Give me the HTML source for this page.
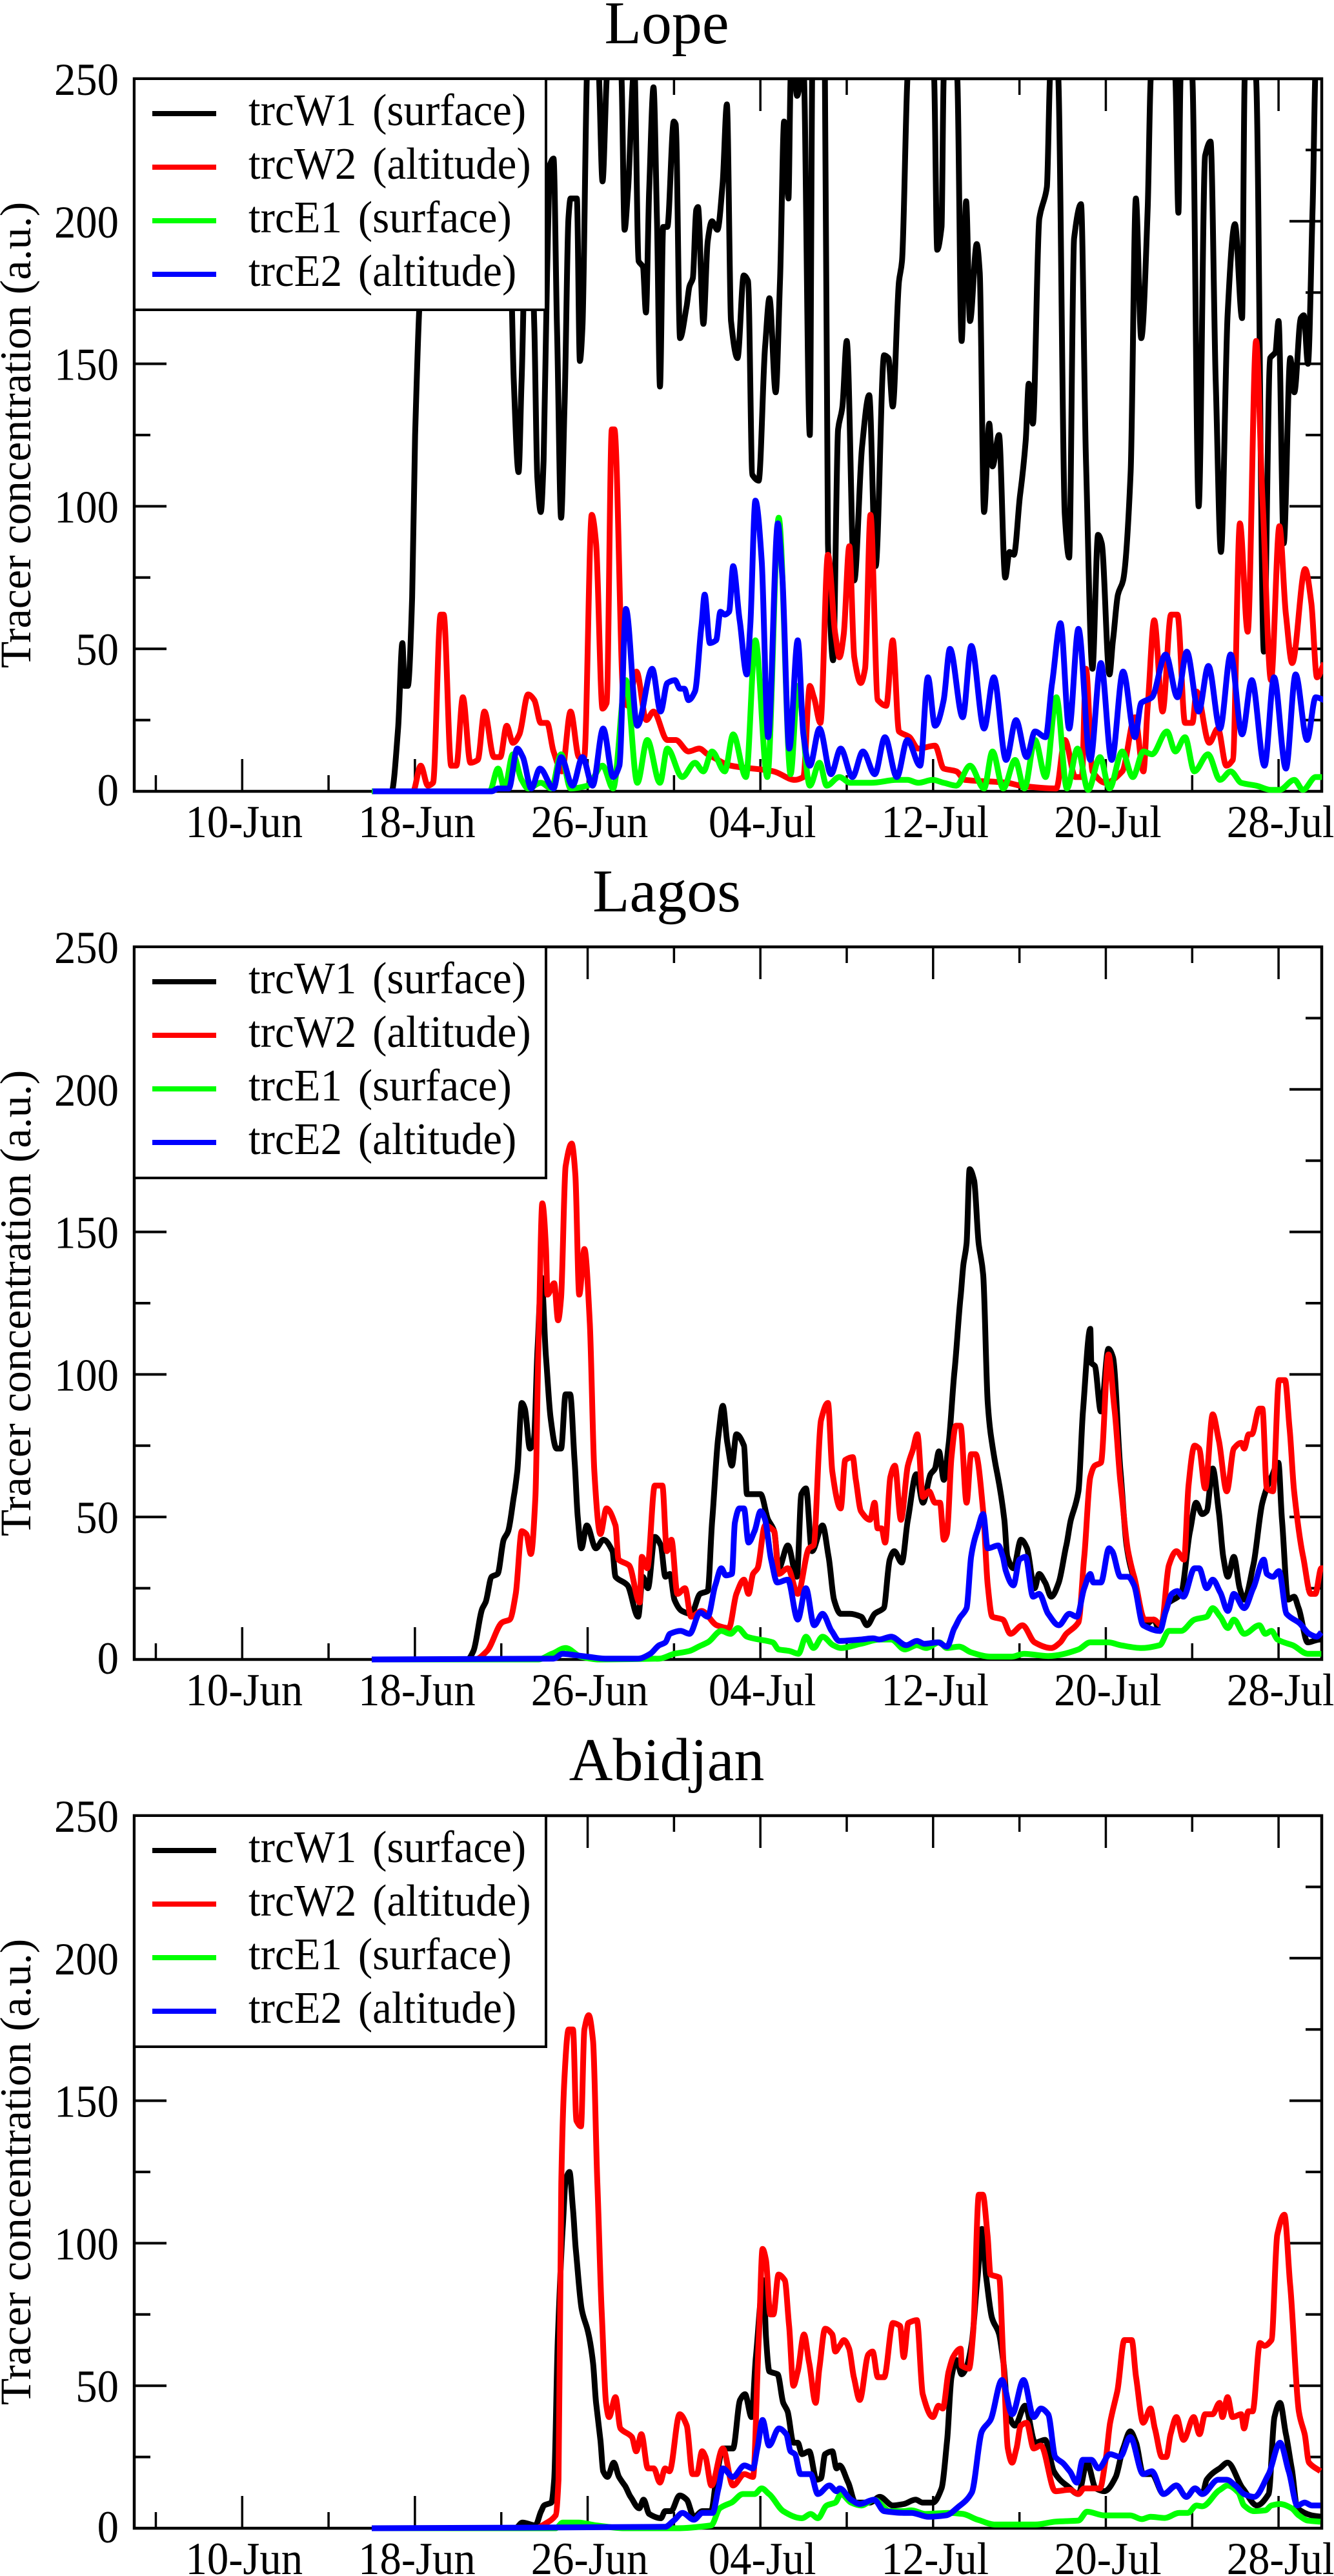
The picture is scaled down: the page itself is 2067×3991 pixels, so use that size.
<!DOCTYPE html>
<html lang="en">
<head>
<meta charset="utf-8">
<title>Tracer concentration at Lope, Lagos and Abidjan</title>
<style>
html,body{margin:0;padding:0;background:#fff;}
svg{display:block;}
text{font-family:"Liberation Serif",serif;fill:#000;}
</style>
</head>
<body>
<svg id="figure" xmlns="http://www.w3.org/2000/svg" width="2067" height="3991" viewBox="0 0 2067 3991"></svg>
<script>
// Days are numbered from 1 June = 1, so 1 July = 31.
const xMajorDays = [10, 18, 26, 34, 42, 50, 58];
const xMinorDays = [6, 14, 22, 30, 38, 46, 54];
const xTickLabels = ["10-Jun", "18-Jun", "26-Jun", "04-Jul", "12-Jul", "20-Jul", "28-Jul"];
const yMajorValues = [0, 50, 100, 150, 200, 250];
const yMinorValues = [25, 75, 125, 175, 225];
const yTickLabels = ["0", "50", "100", "150", "200", "250"];
const seriesNames = ["trcW1 (surface)", "trcW2 (altitude)", "trcE1 (surface)", "trcE2 (altitude)"];
const seriesColors = ["#000000", "#ff0000", "#00ff00", "#0000ff"];
const panelTitles = ["Lope", "Lagos", "Abidjan"];

const lopeW1 = [[16,0],[16.92,0],[17.22,22],[17.42,52],[17.52,37],[17.67,37],[17.87,68],[18.01,125],[18.2,169],[18.4,201],[18.7,260],[20,240],[21,230],[22,260],[22.4,200],[22.58,144],[22.8,112],[22.94,144],[23.14,201],[23.33,210],[23.53,163],[23.67,110],[23.83,98],[23.96,116],[24.12,182],[24.26,220],[24.42,222],[24.58,163],[24.77,96],[24.93,135],[25.11,201],[25.21,208],[25.5,208],[25.64,151],[25.76,163],[25.96,250],[26.1,290],[26.39,290],[26.53,250],[26.69,214],[26.88,250],[27.18,290],[27.57,250],[27.71,197],[27.87,211],[28.1,250],[28.16,255],[28.36,186],[28.56,184],[28.7,168],[28.85,211],[29.05,247],[29.21,201],[29.35,142],[29.5,198],[29.69,198],[29.99,235],[30.08,234],[30.28,159],[30.58,170],[30.71,177],[30.87,180],[31.03,204],[31.11,205],[31.36,164],[31.56,193],[31.76,200],[32.01,197],[32.25,213],[32.45,241],[32.64,165],[32.94,152],[33.23,181],[33.43,179],[33.63,111],[33.92,109],[34.22,156],[34.42,173],[34.71,140],[34.91,179],[35.1,235],[35.3,208],[35.4,250],[35.5,258],[35.7,244],[35.99,255],[36.29,125],[36.42,262],[36.98,260],[37.13,87],[37.37,46],[37.6,127],[37.8,135],[38,158],[38.35,74],[38.71,121],[39.04,139],[39.34,79],[39.73,153],[39.93,152],[40.13,135],[40.42,179],[40.56,186],[40.81,250],[41.1,280],[41.8,280],[42.05,250],[42.19,190],[42.39,198],[42.49,250],[42.8,270],[43.12,250],[43.32,158],[43.53,207],[43.71,165],[44.02,192],[44.16,182],[44.36,98],[44.6,129],[44.75,114],[45.05,125],[45.34,75],[45.54,84],[45.74,83],[46.03,104],[46.29,123],[46.43,143],[46.62,129],[46.92,201],[47.12,207],[47.27,212],[47.41,250],[47.6,270],[47.8,250],[48.1,97],[48.3,82],[48.53,194],[48.85,206],[49.08,116],[49.38,43],[49.64,90],[49.81,87],[50.17,41],[50.33,53],[50.56,69],[50.8,74],[51.15,112],[51.39,208],[51.64,159],[51.94,205],[52.08,250],[52.6,280],[53.22,250],[53.36,203],[53.46,250],[53.7,270],[54.01,250],[54.3,100],[54.6,223],[54.85,228],[55.09,144],[55.33,84],[55.64,167],[55.98,199],[56.31,166],[56.43,250],[56.66,270],[56.96,250],[57.32,49],[57.61,152],[57.85,154],[58,165],[58.24,87],[58.54,152],[58.73,140],[59.03,166],[59.17,167],[59.36,150],[59.58,205],[59.72,253],[60.01,250]];
const lopeW2 = [[16,0],[17.91,0],[18.27,9],[18.6,2],[18.84,3],[19.19,62],[19.33,62],[19.68,9],[19.92,9],[20.22,33],[20.57,10],[20.91,11],[21.22,28],[21.66,12],[21.95,12],[22.25,23],[22.54,17],[22.84,20],[23.24,34],[23.53,32],[23.83,24],[24.12,24],[24.42,14],[24.81,7],[25.21,28],[25.6,12],[25.84,12],[26.19,97],[26.39,87],[26.69,29],[26.88,31],[27.12,127],[27.24,127],[27.67,32],[27.87,30],[28.26,42],[28.72,25],[29.05,28],[29.69,18],[30.08,18],[30.67,14],[31.17,15],[31.56,13],[32.64,9],[33.63,8],[34.61,7],[35.6,4],[35.99,5],[36.29,37],[36.48,33],[36.78,24],[37.13,83],[37.47,55],[37.66,47],[37.86,55],[38.12,86],[38.35,47],[38.65,38],[38.85,43],[39.1,97],[39.44,32],[39.83,30],[40.13,53],[40.42,21],[40.91,19],[41.31,15],[42.09,16],[42.49,8],[43.08,7],[43.47,4],[45.44,3],[46.03,2],[47.71,1],[48.1,18],[48.59,5],[48.89,5],[49.08,43],[49.38,7],[49.97,3],[50.76,7],[51.35,26],[51.74,7],[51.94,30],[52.24,60],[52.63,28],[53.02,62],[53.32,62],[53.67,24],[54.01,24],[54.2,35],[54.79,17],[55.19,22],[55.58,9],[55.88,11],[56.21,94],[56.57,56],[56.96,158],[57.26,102],[57.65,39],[58.04,93],[58.34,62],[58.63,45],[59.23,78],[59.52,66],[59.78,40],[60.11,45]];
const lopeE1 = [[16,0],[21.46,0],[21.85,8],[22.15,1],[22.54,13],[22.94,4],[23.24,1],[23.83,3],[24.32,1],[24.77,13],[25.21,1],[26,2],[26.69,9],[27.18,1],[27.77,39],[28.3,3],[28.76,18],[29.35,3],[29.69,15],[30.38,5],[30.97,10],[31.36,7],[31.76,14],[32.35,7],[32.74,20],[33.33,5],[33.77,53],[34.32,5],[34.85,96],[35.4,6],[35.73,37],[36.29,2],[36.74,10],[37.07,2],[37.66,5],[38.16,3],[39.14,3],[40.32,4],[40.81,4],[41.31,3],[41.98,4],[42.49,3],[43.08,2],[43.71,9],[44.36,1],[44.75,14],[45.25,1],[45.8,11],[46.23,1],[46.72,18],[47.21,5],[47.71,33],[48.2,1],[48.69,15],[49.18,0.5],[49.73,12],[50.17,1],[50.76,14],[51.25,5],[51.74,14],[52.14,13],[52.83,21],[53.22,14],[53.67,19],[54.1,7],[54.73,13],[55.29,4],[55.78,7],[56.27,3],[56.96,2],[57.65,0.5],[58.04,0.5],[58.73,4],[59.13,0.5],[59.72,5],[60.01,5]];
const lopeE2 = [[16.04,0],[21.56,0],[21.85,1],[22.35,1],[22.74,15],[23,12],[23.39,1],[23.79,8],[24.42,1],[24.77,12],[25.3,2],[25.76,12],[26.23,2],[26.72,22],[27.18,5],[27.47,9],[27.77,64],[28.3,23],[28.99,43],[29.38,28],[29.69,38],[30.04,39],[30.28,36],[30.48,36],[30.67,32],[30.97,35],[31.27,58],[31.42,69],[31.66,52],[31.95,53],[32.15,63],[32.35,62],[32.55,63],[32.74,79],[33.04,60],[33.37,41],[33.53,58],[33.77,102],[34.06,81],[34.36,19],[34.81,94],[35.01,76],[35.34,15],[35.73,53],[35.99,20],[36.29,9],[36.74,22],[37.27,6],[37.72,15],[38.26,5],[38.75,14],[39.3,6],[39.77,19],[40.32,5],[40.81,18],[41.4,9],[41.76,40],[42.09,23],[42.49,32],[42.78,50],[43.37,26],[43.77,51],[44.36,22],[44.81,40],[45.38,11],[45.84,25],[46.33,12],[46.72,21],[47.21,19],[47.51,38],[47.9,59],[48.3,22],[48.73,57],[49.28,11],[49.77,45],[50.27,11],[50.8,42],[51.35,19],[51.64,31],[52.14,33],[52.77,48],[53.32,33],[53.75,49],[54.3,28],[54.75,44],[55.29,22],[55.78,48],[56.31,20],[56.76,39],[57.35,9],[57.79,40],[58.34,8],[58.79,41],[59.32,18],[59.72,33],[60.11,32]];

const lagosW1 = [[16,0],[20.43,0],[20.71,3],[21.13,18],[21.27,20],[21.55,29],[21.83,30],[22.11,42],[22.32,45],[22.6,58],[22.74,66],[22.95,90],[23.09,88],[23.33,74],[23.51,77],[23.68,109],[23.86,134],[24.07,106],[24.28,85],[24.56,74],[24.77,74],[24.98,93],[25.19,93],[25.4,69],[25.54,50],[25.71,39],[25.96,47],[26.38,39],[26.73,42],[27.15,38],[27.29,29],[27.85,26],[28.34,15],[28.55,29],[28.79,25],[29.11,43],[29.39,40],[29.6,29],[29.81,30],[30.02,21],[30.37,17],[30.79,16],[31.21,23],[31.56,24],[31.77,49],[32.05,78],[32.26,89],[32.47,76],[32.68,68],[32.89,79],[33.24,75],[33.38,58],[34.01,58],[34.36,49],[34.64,45],[34.85,32],[35.27,40],[35.69,29],[35.9,58],[36.11,60],[36.39,38],[36.88,47],[37.16,36],[37.41,21],[37.72,16],[38.14,16],[38.67,15],[38.94,12],[39.29,16],[39.71,18],[39.99,35],[40.2,38],[40.55,34],[40.83,49],[41.22,65],[41.53,55],[41.88,65],[42.09,67],[42.27,73],[42.5,63],[42.71,75],[42.99,101],[43.27,127],[43.41,139],[43.55,146],[43.69,172],[43.9,168],[44.11,146],[44.32,135],[44.53,90],[44.67,79],[44.95,66],[45.3,49],[45.44,36],[45.72,32],[46.07,42],[46.35,39],[46.7,25],[46.91,30],[47.19,27],[47.47,22],[47.82,27],[48.17,40],[48.38,49],[48.73,59],[48.94,87],[49.28,116],[49.33,104],[49.49,103],[49.77,87],[50.12,109],[50.33,106],[50.68,66],[50.96,40],[51.31,28],[51.8,12],[52.22,14],[52.5,10],[52.78,19],[53.48,23],[53.9,45],[54.18,55],[54.46,51],[54.67,52],[54.95,67],[55.23,52],[55.44,36],[55.65,29],[55.93,36],[56.2,25],[56.41,21],[56.83,33],[57.25,55],[57.67,64],[57.99,69],[58.16,49],[58.44,21],[58.72,22],[58.93,18],[59.35,6],[59.91,7],[60.05,7]];
const lagosW2 = [[16,0],[20.78,0],[21.34,3],[22.04,13],[22.39,14],[22.67,23],[22.95,45],[23.16,44],[23.37,37],[23.58,57],[23.72,109],[23.9,160],[24.07,144],[24.14,128],[24.45,132],[24.63,119],[24.77,127],[24.98,173],[25.26,181],[25.43,170],[25.61,128],[25.85,144],[26.1,118],[26.31,66],[26.59,44],[26.87,53],[27.29,47],[27.43,35],[27.92,33],[28.41,20],[28.51,36],[28.76,32],[29.11,61],[29.46,61],[29.67,38],[29.88,42],[30.16,23],[30.51,25],[30.79,15],[31.28,17],[31.98,12],[32.54,11],[32.89,23],[33.24,28],[33.45,23],[33.66,30],[33.87,32],[34.22,47],[34.64,45],[34.85,30],[35.27,32],[35.73,23],[36.25,39],[36.46,40],[36.81,84],[37.13,90],[37.33,66],[37.72,53],[37.93,70],[38.28,71],[38.42,63],[38.66,52],[39.08,49],[39.29,55],[39.43,46],[39.61,46],[39.78,41],[40.02,64],[40.23,68],[40.51,49],[40.83,68],[41.04,73],[41.27,79],[41.53,57],[41.81,59],[42.09,55],[42.32,55],[42.5,42],[42.64,44],[42.85,71],[43.06,82],[43.27,82],[43.55,55],[43.76,72],[43.97,72],[44.32,52],[44.53,26],[44.74,15],[45.23,14],[45.58,9],[46.14,12],[46.7,6],[47.47,4],[47.89,6],[48.17,9],[48.73,13],[49,36],[49.28,64],[49.49,68],[49.77,69],[50.12,107],[50.4,88],[50.68,62],[51.03,38],[51.31,29],[51.8,14],[52.22,14],[52.57,12],[52.92,33],[53.27,38],[53.62,35],[53.83,61],[54.11,75],[54.32,74],[54.6,60],[54.95,86],[55.23,77],[55.6,59],[55.93,74],[56.27,76],[56.41,74],[56.62,79],[56.76,79],[57.11,88],[57.25,88],[57.46,60],[57.74,59],[58.02,98],[58.3,98],[58.51,81],[58.72,59],[59.14,36],[59.49,23],[59.7,23],[59.98,32],[60.19,32]];
const lagosE1 = [[16,0],[23.72,0],[24.35,2],[24.98,4],[25.68,1],[26.52,0],[29.32,0.3],[30.02,2],[30.72,3],[31.28,5],[31.56,6],[32.19,10],[32.61,9],[32.96,11],[33.38,8],[33.94,7],[34.57,6],[34.85,3.5],[35.34,3],[35.76,2],[36.11,8],[36.46,4],[36.88,8],[37.37,5],[37.72,4],[38.66,5.5],[39.5,7],[40.06,7],[40.69,3.5],[41.25,5],[41.67,4],[42.29,6],[42.64,4],[43.2,4.5],[43.76,2.5],[44.67,1],[45.65,1],[46.21,2],[47.33,1.2],[48.73,3.5],[49.28,6],[50.12,6],[50.68,5],[51.66,4],[52.5,5],[52.92,10],[53.48,10],[54.11,14],[54.67,15],[54.95,18],[55.3,15],[55.65,11],[55.93,14],[56.41,9],[57.11,12],[57.39,9],[57.67,10],[57.95,7],[58.65,5],[59.35,2],[59.98,2]];
const lagosE2 = [[16,0],[24.42,0.3],[24.84,2],[25.54,1.4],[25.96,1],[26.8,0.3],[28.34,0.3],[28.9,2],[29.32,5],[29.6,6],[29.81,9],[30.3,10],[30.72,9],[31.21,16.5],[31.56,15],[31.91,26],[32.19,32],[32.4,29.5],[32.68,30],[32.82,48],[33.03,53],[33.24,53],[33.45,41],[33.73,45],[34.01,52],[34.22,49],[34.5,35],[34.78,27],[35.27,28],[35.73,14],[36.11,25],[36.49,12],[36.88,16],[37.3,10],[37.65,6.5],[38.66,7],[39.22,7.4],[39.5,7],[40.06,8],[40.76,5],[41.25,6.5],[41.6,5.5],[42.22,6],[42.64,4.5],[42.99,11],[43.27,15],[43.55,18],[43.76,36],[44.04,45],[44.32,51],[44.53,39],[45.02,40],[45.23,36],[45.37,31],[45.72,26],[46,35],[46.28,36],[46.63,22],[46.91,23],[47.33,16],[47.82,12],[48.31,16],[48.66,15],[49,25],[49.28,30],[49.42,27],[49.77,27],[50.15,39],[50.29,38],[50.68,29],[51.03,29],[51.31,26],[51.73,12],[52.5,10],[52.78,17],[53.06,23],[53.31,24],[53.59,22],[54.11,32],[54.32,32],[54.67,25],[54.95,28],[55.3,23.5],[55.65,17],[55.93,23],[56.41,18],[56.83,25],[57.32,35],[57.46,30],[57.74,29],[58.02,31],[58.37,16],[58.93,13],[59.42,9],[59.77,8],[59.98,9.5]];

const abidjanW1 = [[16,0],[22.65,0],[22.98,2],[23.58,1],[23.85,6],[23.98,8],[24.32,9],[24.45,17],[24.62,67],[24.85,106],[24.98,122],[25.16,125],[25.32,112],[25.45,98],[25.72,77],[25.98,70],[26.25,58],[26.39,44],[26.59,31],[26.72,20],[26.92,18],[27.21,23],[27.45,18],[27.72,15],[27.99,11],[28.39,7],[28.59,10],[28.85,5],[29.39,3.5],[29.59,6],[29.86,6],[30.26,11.5],[30.59,10],[30.92,4],[31.32,6],[31.72,6],[31.99,19],[32.26,28],[32.73,28],[33.06,45],[33.29,47],[33.59,39],[33.79,60],[34.15,87],[34.26,67],[34.42,55],[34.8,54],[35.06,44],[35.26,41],[35.53,30],[35.73,30],[35.93,26],[36.26,27],[36.6,17],[36.8,17.5],[37,26],[37.33,27],[37.53,21],[37.67,22],[38.07,16],[38.4,9],[39.07,9],[39.53,11],[40.13,8],[40.64,8.5],[41.19,10],[41.52,9],[41.99,9],[42.39,14],[42.65,31],[42.85,53],[43.09,59],[43.32,54],[43.52,56],[43.79,65],[44.06,88],[44.26,105],[44.46,88],[44.72,74],[45.06,68],[45.26,58],[45.46,41],[45.79,36],[46.26,43],[46.73,30],[47.19,31],[47.59,20],[48.19,15],[48.73,12],[49.13,23],[49.53,14],[49.93,13],[50.46,18],[50.8,28],[51.13,34],[51.4,30],[51.73,19],[52.13,19],[52.67,12],[53.27,15],[53.73,11],[54.13,14],[54.47,12],[54.67,17],[55.27,21],[55.64,23],[56.34,14],[57,8],[57.54,12],[57.81,39],[58.07,44],[58.34,33],[58.61,21],[58.87,7],[59.54,4.5],[60.01,4]];
const abidjanW2 = [[16,0],[23.58,0],[24.12,2],[24.52,4.5],[24.65,17],[24.78,121],[24.92,157],[25.12,175],[25.32,175],[25.48,143],[25.69,141],[25.85,175],[26.05,180],[26.25,171],[26.45,121],[26.65,76],[26.85,44],[26.99,39],[27.29,46],[27.52,35],[28.05,32],[28.25,27],[28.49,33],[28.79,21],[29.06,21],[29.35,16],[29.59,21],[29.79,20],[30.26,40],[30.59,36],[30.86,19],[31.06,19],[31.3,27],[31.46,25],[31.73,15],[32.26,28],[32.73,15],[33.26,19],[33.66,18],[33.93,67],[34.1,98],[34.26,94],[34.46,75],[34.6,75],[34.84,89],[35.13,87],[35.33,71],[35.53,50],[35.73,55],[36.02,68],[36.26,58],[36.56,44],[36.73,56],[37,70],[37.33,68],[37.47,62],[37.67,64],[37.87,66],[38.11,63],[38.33,53],[38.6,45],[39,61],[39.2,62],[39.44,53],[39.73,53],[40.14,72],[40.47,71],[40.64,60],[40.85,72],[41.25,73],[41.52,47],[41.99,39],[42.25,43],[42.45,42],[42.72,55],[42.92,60],[43.28,63],[43.32,57],[43.66,56],[43.86,69],[44.12,117],[44.3,117],[44.52,103],[44.66,89],[45.06,88],[45.26,58],[45.46,28],[45.66,23],[45.86,28],[46.06,36],[46.33,37],[46.66,28],[46.99,29],[47.66,13],[48.33,13.5],[48.73,12],[49,14],[49.73,14],[49.99,24],[50.2,37],[50.53,48],[50.86,66],[51.2,66],[51.4,53],[51.73,37],[52.07,42],[52.27,35],[52.6,25],[52.8,25],[53,33],[53.27,39],[53.6,31],[54.07,39],[54.34,33],[54.6,40],[54.94,40],[55.27,44],[55.4,39],[55.64,46],[55.87,39],[56.27,40],[56.4,35],[56.6,41],[56.8,41],[57.14,65],[57.34,64],[57.67,66],[57.94,103],[58.27,110],[58.54,85],[58.94,41],[59.21,33],[59.41,23],[59.94,20]];
const abidjanE1 = [[16,0],[24.52,0],[24.85,2],[25.58,2],[26.39,1],[27.72,0],[30.12,0],[31.72,1],[32.12,7],[32.66,9],[33.19,12],[33.73,12],[34.06,14],[34.4,12],[35.06,6],[35.93,3.5],[36.33,5],[36.66,3.5],[37.07,8],[37.47,9],[37.73,12],[38.2,9],[38.67,8],[39.27,10],[40,6],[40.64,6],[40.99,6.3],[41.65,5],[42.72,5.4],[43.39,5],[44.06,3],[44.86,1.3],[45.66,1.3],[46.73,1.3],[47.66,2.3],[48.73,2.7],[49.13,5.8],[49.93,4.5],[51.13,4.5],[51.67,3.2],[52.07,4],[52.73,3.6],[53.4,5.4],[53.8,5.4],[54.2,8],[54.47,7.7],[55.27,13.4],[55.64,15],[56.14,12.5],[56.4,8],[56.87,6],[57.4,6.3],[57.67,8],[58.07,8.5],[58.61,7],[58.94,4.5],[59.34,2.7],[59.94,2.3]];
const abidjanE2 = [[16,0],[29.59,0.5],[29.99,2.7],[30.39,5.4],[30.92,3],[31.32,5.4],[31.79,5.4],[32.06,14],[32.26,21],[32.73,18],[33.26,22],[33.66,21],[33.86,28],[34.1,38],[34.4,29],[34.86,35],[35.2,33],[35.4,27],[35.6,26],[35.86,19],[36.33,19],[36.66,12],[37.2,15],[37.53,13],[37.67,14],[38.2,10],[38.6,8.5],[39.27,10],[39.73,6],[40.64,5.4],[40.99,5.4],[41.79,4],[42.59,4.5],[43.25,8],[43.79,12.5],[44.26,34],[44.66,38],[45.19,52],[45.66,40],[46.19,52],[46.66,39],[46.99,42],[47.33,40],[47.66,25],[47.99,23],[48.33,20],[48.66,16],[48.93,24],[49.33,24],[49.66,21],[50.2,26],[50.66,25],[51.13,32],[51.73,19],[52.13,20],[52.67,12],[53.27,15],[53.73,11],[54.13,14],[54.47,12],[55.2,17],[55.6,17],[56,15],[56.4,12],[56.87,11],[57.54,19],[58.07,30],[58.47,20],[58.87,8],[59.21,9],[59.54,8],[59.94,8]];

const lopeSeries = [lopeW1, lopeW2, lopeE1, lopeE2];
const lagosSeries = [lagosW1, lagosW2, lagosE1, lagosE2];
const abidjanSeries = [abidjanW1, abidjanW2, abidjanE1, abidjanE2];
const panelSeries = [lopeSeries, lagosSeries, abidjanSeries];

const SVGNS = "http://www.w3.org/2000/svg";
const figure = document.getElementById("figure");
const plotLeft = 208, plotRight = 2048, plotHeight = 1104;
const panelTops = [122, 1467, 2813];
const dayMin = 5, dayMax = 60, valueMin = 0, valueMax = 250;

function xScale(day) {
  return plotLeft + (day - dayMin) / (dayMax - dayMin) * (plotRight - plotLeft);
}
function yScale(value, top) {
  return top + plotHeight - (value - valueMin) / (valueMax - valueMin) * plotHeight;
}
function kebab(s) {
  return s.toLowerCase().replace(/[^a-z0-9]+/g, "-").replace(/^-|-$/g, "");
}
function make(tag, attrs, parent) {
  const el = document.createElementNS(SVGNS, tag);
  for (const k in attrs) el.setAttribute(k, attrs[k]);
  parent.appendChild(el);
  return el;
}
function seg(x1, y1, x2, y2, w, parent, name) {
  const el = make("line", {x1: x1, y1: y1, x2: x2, y2: y2, stroke: "#000", "stroke-width": w}, parent);
  
  
  return el;
}
function label(str, x, y, size, anchor, sx, sy, parent, name) {
  const el = make("text", {transform: "translate(" + x + "," + y + ") scale(" + sx + "," + sy + ")", "font-size": size, "text-anchor": anchor}, parent);
  el.textContent = str;
  
  
  return el;
}
// Monotone cubic path through the data points (the source curves are densely sampled and read as smooth).
function curvePath(points, top) {
  const px = points.map(function (p) { return xScale(p[0]); });
  const py = points.map(function (p) { return yScale(p[1], top); });
  const n = px.length;
  const slope = [];
  for (let i = 0; i < n - 1; i++) slope.push((py[i + 1] - py[i]) / (px[i + 1] - px[i]));
  const tan = [slope[0]];
  for (let i = 1; i < n - 1; i++) {
    const s0 = slope[i - 1], s1 = slope[i];
    if (s0 * s1 <= 0) { tan.push(0); continue; }
    const h0 = px[i] - px[i - 1], h1 = px[i + 1] - px[i];
    const mid = (s0 * h1 + s1 * h0) / (h0 + h1);
    const sign = s0 > 0 ? 1 : -1;
    tan.push(sign * Math.min(Math.abs(s0), Math.abs(s1), 0.5 * Math.abs(mid)) * 1.6);
  }
  tan.push(slope[n - 2]);
  let d = "M" + px[0].toFixed(1) + " " + py[0].toFixed(1);
  for (let i = 0; i < n - 1; i++) {
    const h = (px[i + 1] - px[i]) / 3;
    d += "C" + (px[i] + h).toFixed(1) + " " + (py[i] + tan[i] * h).toFixed(1) + " " +
         (px[i + 1] - h).toFixed(1) + " " + (py[i + 1] - tan[i + 1] * h).toFixed(1) + " " +
         px[i + 1].toFixed(1) + " " + py[i + 1].toFixed(1);
  }
  return d;
}

panelTitles.forEach(function (title, p) {
  const top = panelTops[p];
  const bottom = top + plotHeight;
  const key = kebab(title);

  const g = make("g", {}, figure);
  
  

  const clip = make("clipPath", {id: "clip-" + key}, g);
  make("rect", {x: plotLeft - 2, y: top - 1, width: plotRight - plotLeft + 4, height: plotHeight + 7}, clip);

  label(title, 1033, top - 55, 94, "middle", 1, 1, g, key + '-title');

  const yTitle = make("text", {transform: "translate(47," + (top + plotHeight / 2) + ") rotate(-90)", "font-size": 68, "text-anchor": "middle"}, g);
  yTitle.textContent = "Tracer concentration (a.u.)";
  
  

  // ticks on all four sides
  xMajorDays.forEach(function (d, i) {
    const x = xScale(d);
    seg(x, bottom, x, bottom - 50, 3.5, g, 'x-major-tick');
    seg(x, top, x, top + 50, 3.5, g, 'x-major-tick-top');
    label(xTickLabels[i], x + 3, bottom + 71, 66.7, "middle", 1, 1.06, g, 'x-tick-label');
  });
  xMinorDays.forEach(function (d) {
    const x = xScale(d);
    seg(x, bottom, x, bottom - 25, 3.5, g, 'x-minor-tick');
    seg(x, top, x, top + 25, 3.5, g, 'x-minor-tick-top');
  });
  yMajorValues.forEach(function (v, i) {
    const y = yScale(v, top);
    seg(plotLeft, y, plotLeft + 50, y, 4, g, 'y-major-tick');
    seg(plotRight, y, plotRight - 50, y, 4, g, 'y-major-tick-right');
    label(yTickLabels[i], 184, y + (v === 0 ? 22 : 25), 66.7, "end", 1, 1.06, g, 'y-tick-label');
  });
  yMinorValues.forEach(function (v) {
    const y = yScale(v, top);
    seg(plotLeft, y, plotLeft + 25, y, 4, g, 'y-minor-tick');
    seg(plotRight, y, plotRight - 25, y, 4, g, 'y-minor-tick-right');
  });

  const frame = make("rect", {x: plotLeft, y: top, width: plotRight - plotLeft, height: plotHeight, fill: "none", stroke: "#000", "stroke-width": 4.5}, g);
  
  

  // series
  const dataGroup = make("g", {"clip-path": "url(#clip-" + key + ")"}, g);
  
  
  panelSeries[p].forEach(function (points, s) {
    const line = make("path", {d: curvePath(points, top), fill: "none", stroke: seriesColors[s], "stroke-width": 9, "stroke-linejoin": "miter", "stroke-miterlimit": 4}, dataGroup);
    
    
  });

  // legend
  const legend = make("g", {}, g);
  
  
  const box = make("rect", {x: plotLeft, y: top, width: 638, height: 358, fill: "#fff", stroke: "#000", "stroke-width": 4}, legend);
  
  
  const lineOffsets = [54, 137, 220, 303];
  const textOffsets = [72, 155, 238, 321];
  seriesNames.forEach(function (n, s) {
    const sample = make("line", {x1: 236, x2: 335, y1: top + lineOffsets[s], y2: top + lineOffsets[s], stroke: seriesColors[s], "stroke-width": 8}, legend);
    
    
    const t = label(n, 385, top + textOffsets[s], 67, "start", 1, 1.05, legend, 'legend-label');
    t.setAttribute("word-spacing", "8");
  });
});
</script>
</body>
</html>
